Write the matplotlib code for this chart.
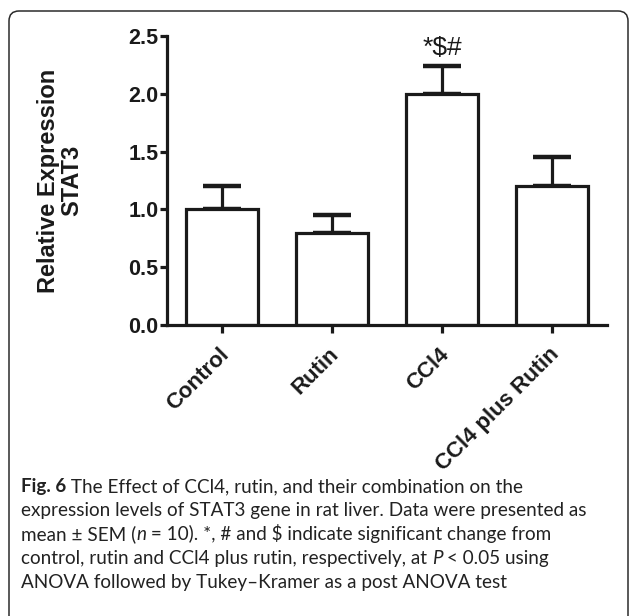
import numpy as np
import matplotlib
matplotlib.use("Agg")
import matplotlib.pyplot as plt
from matplotlib.patches import FancyBboxPatch
from matplotlib.transforms import blended_transform_factory, offset_copy

groups = ["Control", "Rutin", "CCl4", "CCl4 plus Rutin"]
means = [1.00, 0.80, 2.00, 1.20]
sem = [0.20, 0.15, 0.24, 0.25]
marks = ["", "", r"*\$#", ""]
yticks = [0.0, 0.5, 1.0, 1.5, 2.0, 2.5]

# caption runs: (text, weight, style)
caption = [
    [("Fig. 6", "bold", "normal"), (" The Effect of CCl4, rutin, and their combination on the", "normal", "normal")],
    [("expression levels of STAT3 gene in rat liver. Data were presented as", "normal", "normal")],
    [("mean \u00b1 SEM (", "normal", "normal"), ("n", "normal", "italic"),
     (" = 10). *, # and \\$ indicate significant change from", "normal", "normal")],
    [("control, rutin and CCl4 plus rutin, respectively, at ", "normal", "normal"), ("P", "normal", "italic"),
     (" < 0.05 using", "normal", "normal")],
    [("ANOVA followed by Tukey\u2013Kramer as a post ANOVA test", "normal", "normal")],
]

W, H = 629, 616
plt.rcParams["font.family"] = ["Liberation Sans", "DejaVu Sans"]
fig = plt.figure(figsize=(W / 100, H / 100), dpi=100)

# rounded frame around chart + caption (runs off the bottom edge)
frame = FancyBboxPatch((0.09, -0.4), 6.19, 6.45, boxstyle="round,pad=0,rounding_size=0.1",
                       transform=fig.dpi_scale_trans, fc="none", ec="#2b2b2b", lw=1.1)
fig.patches.append(frame)

ax = fig.add_axes([167 / W, 1 - 325 / H, 440 / W, 289 / H])
x = np.arange(len(groups))
lw = 2.3
ink = "#1a1a1a"
ax.bar(x, means, width=0.66, color="white", edgecolor=ink, linewidth=lw, zorder=2)
ax.errorbar(x, means, yerr=[np.zeros(len(sem)), sem], fmt="none", ecolor=ink,
            elinewidth=lw, capsize=13.8, capthick=3.2, zorder=1)
for xi, m, s, t in zip(x, means, sem, marks):
    if t:
        ax.text(xi, m + s + 0.05, t, ha="center", va="bottom", fontsize=19, color=ink)

ax.set_xlim(-0.5, 3.5)
ax.set_ylim(0, 2.5)
ax.set_yticks(yticks)
ax.set_yticklabels([f"{v:.1f}" for v in yticks], fontsize=15.5, fontweight="bold")
ax.set_xticks(x)
ax.set_xticklabels([])
# rotated group labels drawn by hand so they can sit a bit lower/right of the ticks
lab_tr = offset_copy(blended_transform_factory(ax.transData, ax.transAxes),
                     fig=fig, x=4, y=-26.5, units="dots")
for xi, g in zip(x, groups):
    ax.text(xi, 0, g, transform=lab_tr, rotation=45, ha="right", va="center",
            rotation_mode="anchor", fontsize=16, fontweight="bold", color=ink)
for s in ["top", "right"]:
    ax.spines[s].set_visible(False)
for s in ["left", "bottom"]:
    ax.spines[s].set_linewidth(lw)
    ax.spines[s].set_color(ink)
ax.tick_params(axis="y", length=5, width=lw, pad=1, colors=ink)
ax.tick_params(axis="x", length=6, width=lw, pad=4, colors=ink)
ax.set_ylabel("Relative Expression\nSTAT3", fontsize=17, fontweight="bold", color=ink,
              linespacing=1.0)
ax.yaxis.set_label_coords(-0.19, 0.5)

# caption, one line at a time; runs laid end to end on a shared baseline
cap_font = ["Lato", "DejaVu Sans"]
renderer = fig.canvas.get_renderer()
y0, dy = 492, 24.0
for i, line in enumerate(caption):
    xpix = 21
    ybase = 1 - (y0 + i * dy) / H
    for txt, wt, st in line:
        t = fig.text(xpix / W, ybase, txt, fontsize=13.6, fontweight=wt, fontstyle=st,
                     family=cap_font, color="#222222", va="baseline", ha="left")
        xpix = t.get_window_extent(renderer).x1

fig.savefig("out.png", dpi=100)
